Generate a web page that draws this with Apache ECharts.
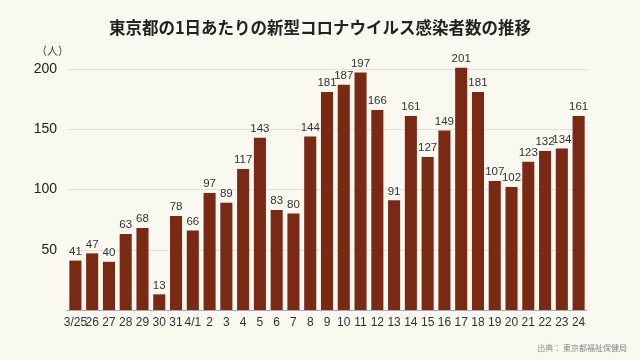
<!DOCTYPE html>
<html><head><meta charset="utf-8">
<script src="https://cdn.jsdelivr.net/npm/echarts@6/dist/echarts.min.js"></script>
<style>html,body{margin:0;padding:0;background:#faf9f1;}#c{width:640px;height:360px;}</style>
</head><body><div id="c"></div>
<script>
const categories = ['3/25','26','27','28','29','30','31','4/1','2','3','4','5','6','7','8','9','10','11','12','13','14','15','16','17','18','19','20','21','22','23','24'];
const cases = [41,47,40,63,68,13,78,66,97,89,117,143,83,80,144,181,187,197,166,91,161,127,149,201,181,107,102,123,132,134,161];
const yTicks = [0,50,100,150,200];
const titleText = '東京都の1日あたりの新型コロナウイルス感染者数の推移';
const unitText = '（人）';
const sourceText = '出典： 東京都福祉保健局';

const chart = echarts.init(document.getElementById('c'));
chart.setOption({
  backgroundColor: '#faf9f1',
  animation: false,
  title: {
    text: titleText, left: 'center', top: 14,
    textStyle: {fontFamily: 'Noto Sans CJK JP', fontSize: 16.5, fontWeight: 'bold', color: '#222'}
  },
  graphic: [
    {type: 'text', left: 36, top: 45, style: {text: unitText, fontFamily: 'Noto Sans CJK JP', fontSize: 11, fill: '#444'}},
    {type: 'text', right: 13, top: 344, style: {text: sourceText, fontFamily: 'Noto Sans CJK JP', fontSize: 8, fill: '#888'}}
  ],
  grid: {left: 67, right: 53, top: 69, bottom: 50},
  xAxis: {
    type: 'category', data: categories,
    axisLine: {lineStyle: {color: '#aaa'}},
    axisTick: {show: false},
    axisLabel: {interval: 0, color: '#333', fontSize: 12, margin: 7, fontFamily: 'Liberation Sans'}
  },
  yAxis: {
    type: 'value', min: yTicks[0], max: yTicks[yTicks.length-1], interval: 50,
    axisLine: {show: false}, axisTick: {show: false},
    axisLabel: {showMinLabel: false, color: '#222', fontSize: 14, margin: 10, fontFamily: 'Liberation Sans'},
    splitLine: {lineStyle: {color: '#e2e0d8'}}
  },
  series: [{
    type: 'bar', data: cases, clip: false,
    barCategoryGap: '28%',
    itemStyle: {color: '#7a2a14'},
    label: {show: true, position: 'top', distance: 3, color: '#333', fontSize: 11.5, fontFamily: 'Liberation Sans'}
  }]
});
</script></body></html>
